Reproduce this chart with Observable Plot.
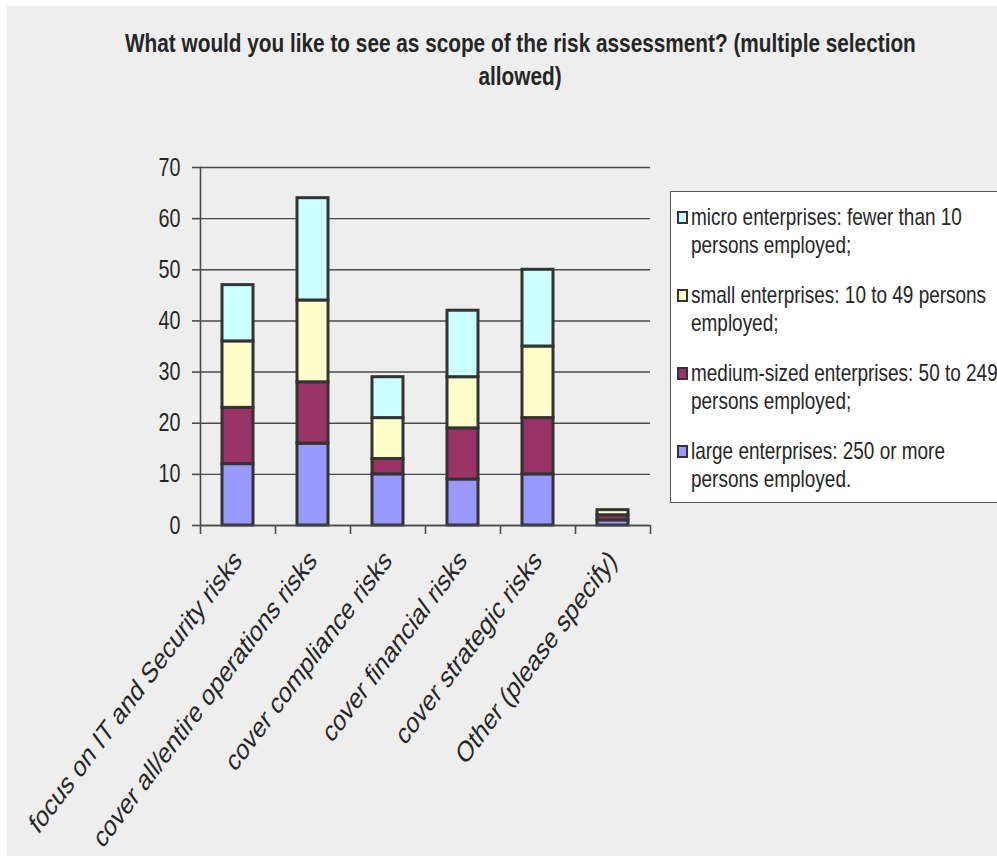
<!DOCTYPE html>
<html>
<head>
<meta charset="utf-8">
<script src="https://cdn.jsdelivr.net/npm/d3@7"></script>
<script src="https://cdn.jsdelivr.net/npm/@observablehq/plot@0.6"></script>
<style>
  html, body { margin: 0; padding: 0; background: #eeeeee; overflow: hidden; width: 997px; height: 856px; }
  #stripL { position: absolute; left: 0; top: 0; width: 7px; height: 856px; background: #fff; }
  #stripT { position: absolute; left: 0; top: 0; width: 997px; height: 6px; background: #fff; }
  #title { position: absolute; left: 20px; top: 27px; width: 1000px; text-align: center; }
  .tline { display: block; white-space: nowrap; font-family: "Liberation Sans", Arial, sans-serif; font-weight: bold;
           font-size: 26.3px; line-height: 33px; color: #262626; transform-origin: 500px 0; }
  #chart { position: absolute; left: 0; top: 0; }
  #legend { position: absolute; left: 670px; top: 191px; width: 340px; height: 312px;
            background: #fff; border: 1.5px solid #555; box-sizing: border-box; }
  .entry { position: absolute; left: 20px; font-family: "Liberation Sans", Arial, sans-serif;
           font-size: 24px; line-height: 28px; color: #262626; white-space: nowrap;
           transform: scaleX(0.79); transform-origin: 0 0; }
  .swatch { position: absolute; left: 6px; width: 7px; height: 9px; border: 2px solid #333; }
</style>
</head>
<body>
<div id="stripL"></div>
<div id="stripT"></div>
<div id="chart"></div>
<div id="title"></div>
<div id="legend"></div>
<script>
const titleLines = ["What would you like to see as scope of the risk assessment? (multiple selection", "allowed)"];

const categories = [
  "focus on IT and Security risks",
  "cover all/entire operations risks",
  "cover compliance risks",
  "cover financial risks",
  "cover strategic risks",
  "Other (please specify)"
];

const seriesNames = ["large", "medium", "small", "micro"];
const seriesColors = ["#9999ff", "#993366", "#ffffcc", "#ccffff"];

const largeValues  = [12, 16, 10,  9, 10, 1];
const mediumValues = [11, 12,  3, 10, 11, 1];
const smallValues  = [13, 16,  8, 10, 14, 1];
const microValues  = [11, 20,  8, 13, 15, 0];

const yTicks = [0, 10, 20, 30, 40, 50, 60, 70];

// legend order top to bottom
const legendSeries = ["micro", "small", "medium", "large"];
const legendLines = [
  ["micro enterprises: fewer than 10", "persons employed;"],
  ["small enterprises: 10 to 49 persons", "employed;"],
  ["medium-sized enterprises: 50 to 249", "persons employed;"],
  ["large enterprises: 250 or more", "persons employed."]
];

const valuesBySeries = {large: largeValues, medium: mediumValues, small: smallValues, micro: microValues};
const data = [];
for (const s of seriesNames) {
  categories.forEach((c, i) => data.push({category: c, series: s, value: valuesBySeries[s][i]}));
}

const SQUEEZE = 0.79;
const LABEL_SQUEEZE = 0.75;

// title (squeezed horizontally like the reference)
const titleDiv = document.getElementById("title");
titleLines.forEach((line, i) => {
  const span = document.createElement("span");
  span.className = "tline";
  span.textContent = line;
  span.style.transform = `scaleX(${SQUEEZE})`;
  titleDiv.appendChild(span);
});

const lastCat = categories[categories.length - 1];
const step = 75;

const chart = Plot.plot({
  width: 997,
  height: 856,
  marginTop: 167,
  marginBottom: 331,
  marginLeft: 200,
  marginRight: 347,
  style: {background: "transparent", fontFamily: "'Liberation Sans', Arial, sans-serif", fontSize: "25px", color: "#262626", overflow: "visible"},
  x: {domain: categories, padding: 0, label: null, axis: null},
  y: {domain: [0, 70], label: null, axis: null},
  color: {domain: seriesNames, range: seriesColors},
  marks: [
    Plot.gridY(yTicks, {stroke: "#4a4a4a", strokeOpacity: 1, strokeWidth: 1.4}),
    Plot.barY(data, {x: "category", y: "value", fill: "series", stroke: "#333", strokeWidth: 3,
                     insetLeft: 22, insetRight: 22, order: seriesNames}),
    Plot.ruleY([0], {stroke: "#4a4a4a", strokeWidth: 1.6}),
    Plot.frame({anchor: "left", stroke: "#4a4a4a", strokeWidth: 1.6}),
    Plot.axisY(yTicks, {tickSize: 8, tickPadding: 12, stroke: "#4a4a4a", strokeWidth: 1.6, fontSize: 25, label: null, className: "ytick"}),
    Plot.axisX(categories, {tickSize: 9, text: null, dx: -step / 2, stroke: "#4a4a4a", strokeWidth: 1.6, label: null}),
    Plot.axisX([lastCat], {tickSize: 9, text: null, dx: step / 2, stroke: "#4a4a4a", strokeWidth: 1.6, label: null}),
    Plot.text(categories, {x: d => d, frameAnchor: "bottom", dy: 30, rotate: -45,
                           textAnchor: "end", lineAnchor: "middle", fontSize: 29.5,
                           fontFamily: "'Liberation Sans', Arial, sans-serif", fill: "#262626",
                           className: "catlabel"})
  ]
});
document.getElementById("chart").appendChild(chart);

// emulate the horizontally squeezed, sheared look of the rotated labels
chart.querySelectorAll(".catlabel text").forEach(t => {
  const tr = t.getAttribute("transform");
  if (tr) t.setAttribute("transform", tr.replace(/rotate\(([-\d.]+)\)/, `scale(${LABEL_SQUEEZE},1) rotate($1)`));
});
// squeeze y tick labels
chart.querySelectorAll(".ytick text").forEach(t => {
  const tr = t.getAttribute("transform") || "";
  t.setAttribute("transform", tr + ` scale(${SQUEEZE},1)`);
});

// legend
const legend = document.getElementById("legend");
legendSeries.forEach((s, i) => {
  const top = 11 + i * 78;
  const sw = document.createElement("div");
  sw.className = "swatch";
  sw.style.top = (top + 8) + "px";
  sw.style.background = seriesColors[seriesNames.indexOf(s)];
  legend.appendChild(sw);
  const e = document.createElement("div");
  e.className = "entry";
  e.style.top = top + "px";
  e.innerHTML = legendLines[i].join("<br>");
  legend.appendChild(e);
});
</script>
</body>
</html>
